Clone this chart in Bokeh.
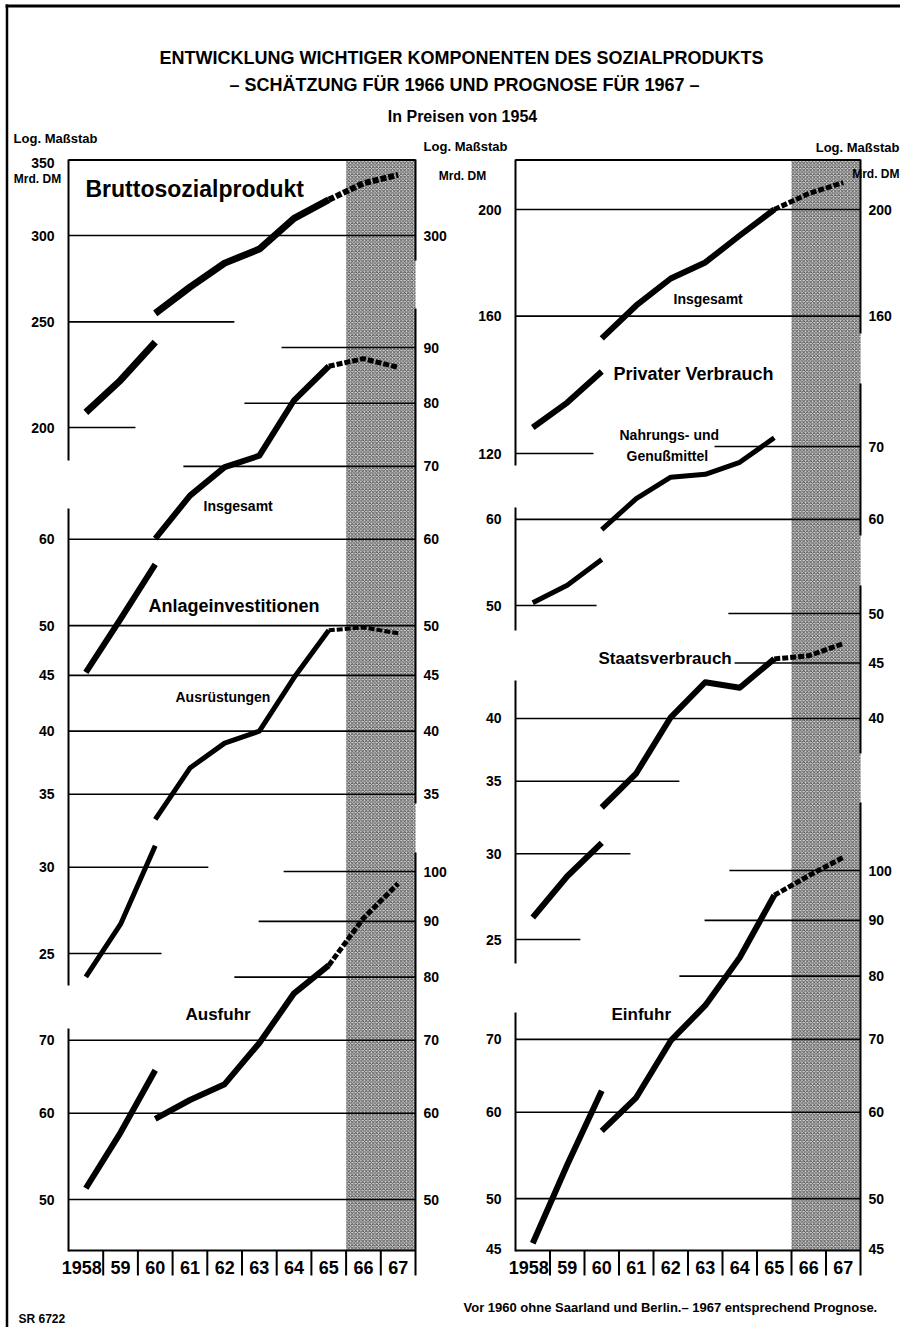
import math
from bokeh.plotting import figure
from bokeh.models import Range1d, LogScale, LinearScale
from bokeh.core.properties import value
from bokeh.embed import file_html
from bokeh.resources import INLINE

# ------------------------------------------------------------------ data
years_a = [1958, 1959, 1960]                                   # before 1960: without Saarland/Berlin
years_b = [1960, 1961, 1962, 1963, 1964, 1965, 1966, 1967]     # from 1960 on
year_labels = ["1958", "59", "60", "61", "62", "63", "64", "65", "66", "67"]

# Mrd. DM, prices of 1954
bsp_a = [206.5, 221.0, 239.5]
bsp_b = [254.5, 269.0, 283.0, 291.5, 311.0, 323.5, 335.0, 341.0]
anl_a = [45.3, 50.7, 56.9]
anl_b = [60.1, 65.8, 69.9, 71.6, 80.5, 86.5, 87.9, 86.3]
ausr_a = [23.8, 26.6, 31.4]
ausr_b = [33.2, 37.0, 39.0, 40.0, 44.8, 49.5, 49.8, 49.2]
ausf_a = [51.2, 57.6, 65.7]
ausf_b = [59.3, 61.7, 63.8, 69.6, 77.3, 82.0, 90.6, 97.5]
pv_a = [126.7, 133.5, 142.5]
pv_b = [152.7, 163.6, 173.1, 179.0, 189.4, 200.0, 206.8, 211.6]
nah_a = [50.3, 52.2, 55.1]
nah_b = [58.7, 62.7, 65.6, 66.0, 67.7, 71.3]
sta_a = [26.2, 28.6, 30.7]
sta_b = [33.1, 35.6, 40.1, 43.2, 42.7, 45.4, 45.7, 46.9]
ein_a = [45.5, 53.7, 62.8]
ein_b = [57.7, 61.9, 69.8, 75.2, 83.2, 94.9, 98.9, 102.8]

# tick labels of every scale segment (left side / right side)
ticks_bsp_l = [350, 300, 250, 200]
ticks_bsp_r = [300]
ticks_anl_l = [60, 50, 45, 40, 35, 30, 25]
ticks_anl_r = [90, 80, 70, 60, 50, 45, 40, 35]
ticks_ausf_l = [70, 60, 50]
ticks_ausf_r = [100, 90, 80, 70, 60, 50]
ticks_pv_l = [200, 160, 120]
ticks_pv_r = [200, 160]
ticks_nah_l = [60, 50]
ticks_nah_r = [70, 60]
ticks_sta_l = [40, 35, 30, 25]
ticks_sta_r = [50, 45, 40]
ticks_ein_l = [70, 60, 50, 45]
ticks_ein_r = [100, 90, 80, 70, 60, 50, 45]

# ------------------------------------------------------------------ layout
W, H = 900, 1327
OFF = 0                      # picture origin = canvas origin
def X(px): return px - OFF
def Y(py): return py - OFF

FONT = "'Liberation Sans', sans-serif"

# x: pixel of the 1957.5 and 1967.5 cell boundaries
PANELS = {"L": (68, 415), "R": (515, 860)}

def year_range(x0, x1):
    w = (x1 - x0) / 10.0
    return Range1d(start=1957.5 + (OFF - x0) / w, end=1957.5 + (OFF + W - x0) / w)

# y: two anchors (value, pixel y) per log-scale segment
ANCHORS = {
    "bsp": (300, 235, 200, 427),
    "anl": (90, 347, 25, 953),
    "ausf": (100, 871, 50, 1199),
    "pv": (200, 209, 120, 453),
    "nah": (70, 446, 50, 605),
    "sta": (50, 613, 25, 939),
    "ein": (100, 870, 45, 1248),
}

def log_range(v1, y1, v2, y2):
    k = (y2 - y1) / (math.log10(v1) - math.log10(v2))
    top = 10 ** (math.log10(v1) + (y1 - OFF) / k)
    bot = 10 ** (math.log10(v1) - (OFF + H - y1) / k)
    return Range1d(start=bot, end=top)

p = figure(width=W, height=H, x_range=Range1d(0, W), y_range=Range1d(H, 0),
           toolbar_location=None, output_backend="svg", min_border=0,
           x_axis_location=None, y_axis_location=None)
p.grid.visible = False
p.outline_line_color = None
p.background_fill_color = "white"
p.extra_x_ranges = {k: year_range(*v) for k, v in PANELS.items()}
p.extra_x_scales = {k: LinearScale() for k in PANELS}
p.extra_y_ranges = {k: log_range(*v) for k, v in ANCHORS.items()}
p.extra_y_scales = {k: LogScale() for k in ANCHORS}

LO, HI = 1957.5, 1967.5

# scanned page border
p.line(x=[X(5), W], y=[Y(5.5), Y(5.5)], line_width=3, color="black")
p.line(x=[X(6.5), X(6.5)], y=[Y(4), H], line_width=2.5, color="black")

# shaded estimate / forecast period
for pn in PANELS:
    p.quad(left=[1965.5], right=[HI], top=[Y(159)], bottom=[Y(1250)], x_range_name=pn,
           fill_color="#d6d6d6", line_color=None,
           hatch_pattern="diagonal_cross", hatch_color="#4a4a4a", hatch_scale=3.5, hatch_weight=0.9)

# gridlines: scale -> (panel, [(value, from_year, to_year)])
GRID = {
    "bsp": ("L", [(300, LO, HI), (250, LO, 1962.28), (200, LO, 1959.43)]),
    "anl": ("L", [(90, 1963.64, HI), (80, 1962.57, HI), (70, 1960.81, HI), (60, LO, HI),
                  (50, LO, HI), (45, LO, HI), (40, LO, HI), (35, LO, HI),
                  (30, LO, 1961.53), (25, LO, 1960.18)]),
    "ausf": ("L", [(100, 1963.7, HI), (90, 1962.98, HI), (80, 1962.28, HI),
                   (70, LO, HI), (60, LO, HI), (50, LO, HI)]),
    "pv": ("R", [(200, LO, HI), (160, LO, HI), (120, LO, 1959.76)]),
    "nah": ("R", [(70, 1963.27, HI), (60, LO, HI), (50, LO, 1959.85)]),
    "sta": ("R", [(50, 1963.67, HI), (45, 1963.85, HI), (40, LO, HI), (35, LO, 1962.25),
                  (30, LO, 1960.83), (25, LO, 1959.38)]),
    "ein": ("R", [(100, 1963.7, HI), (90, 1962.98, HI), (80, 1962.25, HI),
                  (70, LO, HI), (60, LO, HI), (50, LO, HI)]),
}
for sc, (pn, rows) in GRID.items():
    p.segment(x0=[r[1] for r in rows], x1=[r[2] for r in rows],
              y0=[r[0] for r in rows], y1=[r[0] for r in rows],
              x_range_name=pn, y_range_name=sc, line_color="black", line_width=1.6)

# axis line segments (pixel y spans)
AXES = {
    "L": {LO: [(159, 460), (508, 985), (1028, 1251)], HI: [(159, 260), (308, 803), (852, 1275)]},
    "R": {LO: [(159, 465), (507, 630), (680, 963), (1012, 1251)],
          HI: [(159, 333), (383, 535), (585, 753), (802, 1275)]},
}
for pn, sides in AXES.items():
    for xv, spans in sides.items():
        p.segment(x0=[xv] * len(spans), x1=[xv] * len(spans),
                  y0=[Y(a) for a, b in spans], y1=[Y(b) for a, b in spans],
                  x_range_name=pn, line_color="black", line_width=2)
    # frame top and bottom (year axis)
    p.segment(x0=[LO, LO], x1=[HI, HI], y0=[Y(159.5), Y(1250)], y1=[Y(159.5), Y(1250)],
              x_range_name=pn, line_color="black", line_width=2.2)
    # year separators
    seps = [LO + i for i in range(1, 10)]
    p.segment(x0=seps, x1=seps, y0=[Y(1250)] * 9, y1=[Y(1275)] * 9,
              x_range_name=pn, line_color="black", line_width=2)
    # year labels
    cx = [float(y) for y in range(1958, 1968)]
    p.text(x=cx, y=[Y(1267)] * 10, text=year_labels, x_range_name=pn,
           x_offset=[-4] + [0] * 9,
           text_align="center", text_baseline="middle", text_font=value(FONT),
           text_font_style="bold", text_font_size="18px", text_color="black")

# tick labels
TICKS = [
    ("L", "bsp", ticks_bsp_l, ticks_bsp_r),
    ("L", "anl", ticks_anl_l, ticks_anl_r),
    ("L", "ausf", ticks_ausf_l, ticks_ausf_r),
    ("R", "pv", ticks_pv_l, ticks_pv_r),
    ("R", "nah", ticks_nah_l, ticks_nah_r),
    ("R", "sta", ticks_sta_l, ticks_sta_r),
    ("R", "ein", ticks_ein_l, ticks_ein_r),
]
for pn, sc, tl, tr in TICKS:
    p.text(x=[LO] * len(tl), y=tl, text=[str(t) for t in tl], x_range_name=pn, y_range_name=sc,
           x_offset=-14, text_align="right", text_baseline="middle", text_font=value(FONT),
           text_font_style="bold", text_font_size="14px", text_color="black")
    p.text(x=[HI] * len(tr), y=tr, text=[str(t) for t in tr], x_range_name=pn, y_range_name=sc,
           x_offset=8, text_align="left", text_baseline="middle", text_font=value(FONT),
           text_font_style="bold", text_font_size="14px", text_color="black")

# series
SERIES = [
    ("L", "bsp", bsp_a, bsp_b, 7),
    ("L", "anl", anl_a, anl_b, 6),
    ("L", "anl", ausr_a, ausr_b, 5),
    ("L", "ausf", ausf_a, ausf_b, 6),
    ("R", "pv", pv_a, pv_b, 6),
    ("R", "nah", nah_a, nah_b, 5),
    ("R", "sta", sta_a, sta_b, 6),
    ("R", "ein", ein_a, ein_b, 6),
]
for pn, sc, va, vb, lw in SERIES:
    kw = dict(x_range_name=pn, y_range_name=sc, line_color="black", line_join="round")
    p.line(x=years_a, y=va, line_width=lw, line_cap="butt", **kw)
    n = min(len(vb), 6)
    p.line(x=years_b[:n], y=vb[:n], line_width=lw, line_cap="butt", **kw)
    if len(vb) > 6:
        p.line(x=years_b[5:len(vb)], y=vb[5:], line_width=lw - 1, line_dash="6 2", **kw)

# texts (pixel coordinates)
TEXTS = [
    ("ENTWICKLUNG WICHTIGER KOMPONENTEN DES SOZIALPRODUKTS", 461, 57, 18, "center"),
    ("\u2013 SCHÄTZUNG FÜR 1966 UND PROGNOSE FÜR 1967 \u2013", 464, 84, 18, "center"),
    ("In Preisen von 1954", 462, 116, 16, "center"),
    ("Log. Maßstab", 55, 138, 13, "center"),
    ("Mrd. DM", 37, 178, 12, "center"),
    ("Log. Maßstab", 465, 146, 13, "center"),
    ("Mrd. DM", 462, 175, 12, "center"),
    ("Log. Maßstab", 899, 147, 13, "right"),
    ("Mrd. DM", 899, 173, 12, "right"),
    ("Bruttosozialprodukt", 85, 188, 23, "left"),
    ("Insgesamt", 203, 505, 14, "left"),
    ("Anlageinvestitionen", 148, 605, 18, "left"),
    ("Ausrüstungen", 175, 696, 14, "left"),
    ("Ausfuhr", 185, 1014, 17, "left"),
    ("Insgesamt", 673, 298, 14, "left"),
    ("Privater Verbrauch", 613, 373, 18, "left"),
    ("Nahrungs- und", 619, 434, 14, "left"),
    ("Genußmittel", 626, 455, 14, "left"),
    ("Staatsverbrauch", 598, 658, 17, "left"),
    ("Einfuhr", 611, 1014, 17, "left"),
    ("Vor 1960 ohne Saarland und Berlin.\u2013 1967 entsprechend Prognose.", 463, 1307, 13, "left"),
    ("SR 6722", 18, 1318, 12, "left"),
]
for t, x, y, s, al in TEXTS:
    p.text(x=[X(x)], y=[Y(y)], text=[t], text_align=al, text_baseline="middle",
           text_font=value(FONT), text_font_style="bold", text_font_size=f"{s}px",
           text_color="black")

open("out.html", "w").write(file_html(p, INLINE))
